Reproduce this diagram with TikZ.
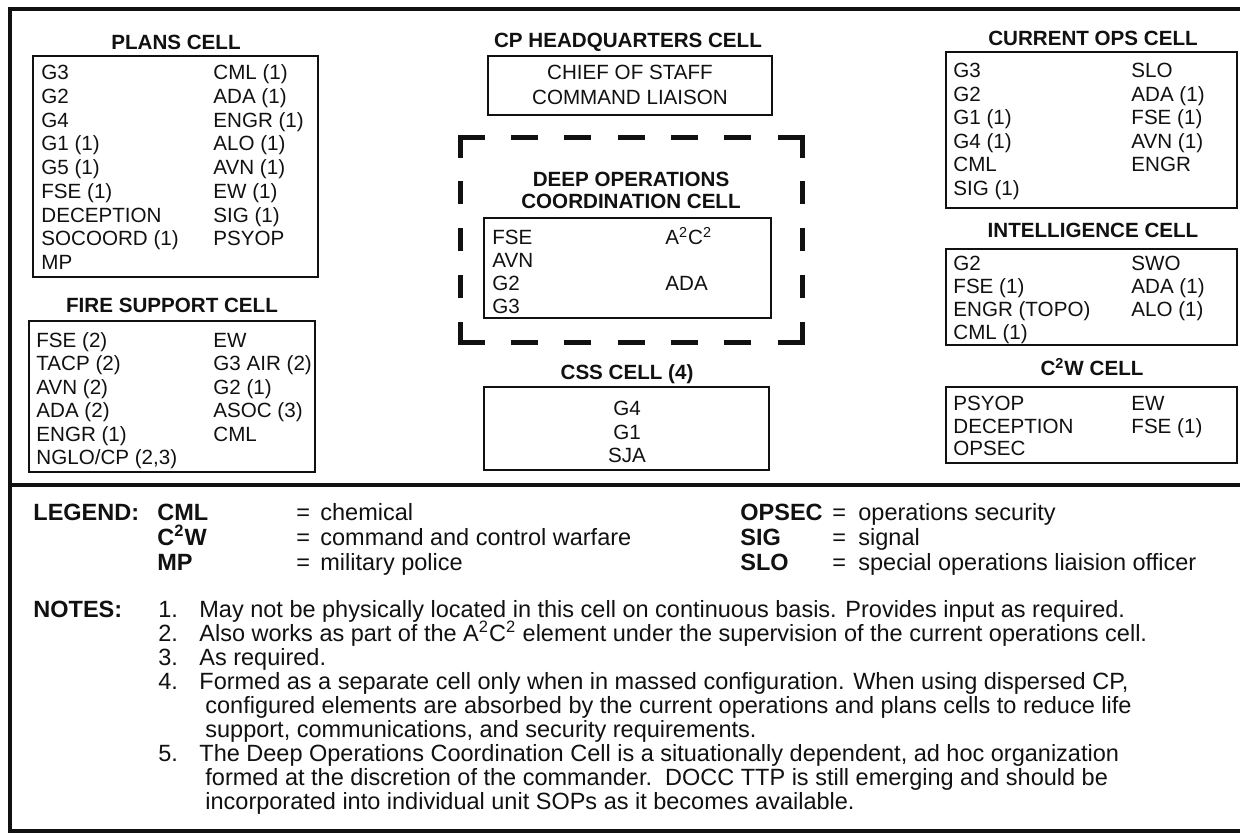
\documentclass[tikz,border=0pt]{standalone}
\usepackage{fontspec}
\setmainfont{Liberation Sans}
\definecolor{color_ink}{HTML}{111111}
\newcommand{\cellfont}{\fontsize{10.3}{12}\selectfont}
\newcommand{\notefont}{\fontsize{11.75}{13.5}\selectfont}
\tikzset{
  outer_frame/.style={draw=color_ink, line width=2pt},
  cell_box/.style={draw=color_ink, line width=1.2pt},
  cell_title/.style={font=\cellfont\bfseries, text=color_ink, inner sep=0pt, anchor=base},
  cell_entry/.style={font=\cellfont, text=color_ink, inner sep=0pt, anchor=base west},
  cell_centred/.style={cell_entry, anchor=base},
  docc_dash_h/.style={draw=color_ink, line width=2.5pt, line cap=rect, dash pattern=on 11pt off 15.67pt},
  docc_dash_v/.style={draw=color_ink, line width=2.5pt, line cap=rect, dash pattern=on 9pt off 14.375pt},
  legend_head/.style={font=\notefont\bfseries, text=color_ink, inner sep=0pt, anchor=base west},
  legend_text/.style={font=\notefont, text=color_ink, inner sep=0pt, anchor=base west},
}
% one column of a cell: name, x, first baseline, row gap, entries
\newcommand{\cellcolumn}[5]{%
  \foreach \entry [count=\row] in {#5}
    \node[cell_entry] (#1_\row) at ({#2}, {#3+(\row-1)*#4}) {\entry};
}

\begin{document}
\begin{tikzpicture}[x=0.5pt, y=-0.5pt]
  \useasboundingbox (0,0) rectangle (1240,837);
  \clip (0,0) rectangle (1240,837);
  \fill[white] (0,0) rectangle (1240,837);
  % Outer frame and legend divider
  \draw[outer_frame] (10,9) rectangle (1243,831);
  \draw[outer_frame] (10,485) -- (1243,485);

  % Plans cell
  \node[cell_title] (plans_title) at (176,49.5) {PLANS CELL};
  \draw[cell_box] (33,56) rectangle (318,277);
  \cellcolumn{plans_l}{41}{79.5}{23.75}{G3, G2, G4, G1 (1), G5 (1), FSE (1), DECEPTION, SOCOORD (1), MP}
  \cellcolumn{plans_r}{213}{79.5}{23.75}{CML (1), ADA (1), ENGR (1), ALO (1), AVN (1), EW (1), SIG (1), PSYOP}

  % Fire support cell
  \node[cell_title] (fire_title) at (172,312.5) {FIRE SUPPORT CELL};
  \draw[cell_box] (29,321) rectangle (315,472);
  \cellcolumn{fire_l}{36}{347.5}{23.4}{FSE (2), TACP (2), AVN (2), ADA (2), ENGR (1), {NGLO/CP (2,3)}}
  \cellcolumn{fire_r}{213}{347.5}{23.4}{EW, G3 AIR (2), G2 (1), ASOC (3), CML}

  % CP headquarters cell
  \node[cell_title] (hq_title) at (628,47.5) {CP HEADQUARTERS CELL};
  \draw[cell_box] (488,56) rectangle (772,115);
  \node[cell_centred] (hq_chief) at (630,79.5) {CHIEF OF STAFF};
  \node[cell_centred] (hq_liaison) at (630,104.5) {COMMAND LIAISON};

  % Deep operations coordination cell (dashed)
  \coordinate (docc_nw) at (460,137);
  \coordinate (docc_ne) at (802,137);
  \coordinate (docc_se) at (802,342);
  \coordinate (docc_sw) at (460,342);
  \draw[docc_dash_h] (docc_nw) -- (docc_ne);
  \draw[docc_dash_h] (docc_sw) -- (docc_se);
  \draw[docc_dash_v] (docc_nw) -- (docc_sw);
  \draw[docc_dash_v] (docc_ne) -- (docc_se);
  \node[cell_title] (docc_title_a) at (631,186.5) {DEEP OPERATIONS};
  \node[cell_title] (docc_title_b) at (631,208.5) {COORDINATION CELL};
  \draw[cell_box] (484,218) rectangle (771,318);
  \cellcolumn{docc_l}{492}{244.5}{23}{FSE, AVN, G2, G3}
  \node[cell_entry] (docc_r_1) at (665,244.5) {A\textsuperscript{2}C\textsuperscript{2}};
  \node[cell_entry] (docc_r_3) at (665,290.5) {ADA};

  % CSS cell
  \node[cell_title] (css_title) at (627,379.5) {CSS CELL (4)};
  \draw[cell_box] (484,387) rectangle (769,470);
  \node[cell_centred] (css_g4) at (627,415.5) {G4};
  \node[cell_centred] (css_g1) at (627,439) {G1};
  \node[cell_centred] (css_sja) at (627,462.5) {SJA};

  % Current ops cell
  \node[cell_title] (ops_title) at (1093,45.5) {CURRENT OPS CELL};
  \draw[cell_box] (946,52) rectangle (1237,208);
  \cellcolumn{ops_l}{953}{77.5}{23.6}{G3, G2, G1 (1), G4 (1), CML, SIG (1)}
  \cellcolumn{ops_r}{1131}{77.5}{23.6}{SLO, ADA (1), FSE (1), AVN (1), ENGR}

  % Intelligence cell
  \node[cell_title] (intel_title) at (1093,237.5) {INTELLIGENCE CELL};
  \draw[cell_box] (946,249) rectangle (1237,345);
  \cellcolumn{intel_l}{953}{270.5}{23}{G2, FSE (1), ENGR (TOPO), CML (1)}
  \cellcolumn{intel_r}{1131}{270.5}{23}{SWO, ADA (1), ALO (1)}

  % C2W cell
  \node[cell_title] (ctwo_title) at (1092,375.5) {C\textsuperscript{2}W CELL};
  \draw[cell_box] (946,387) rectangle (1237,463);
  \cellcolumn{ctwo_l}{953}{410.5}{22.5}{PSYOP, DECEPTION, OPSEC}
  \cellcolumn{ctwo_r}{1131}{410.5}{22.5}{EW, FSE (1)}

  % Legend
  \node[legend_head] (legend_label) at (33,520) {LEGEND:};
  \foreach \term/\gloss [count=\row] in {CML/chemical, C\textsuperscript{2}W/command and control warfare, MP/military police} {
    \node[legend_head] (legend_term_\row) at (157,{495+\row*25}) {\term};
    \node[legend_text] (legend_eq_\row) at (296,{495+\row*25}) {=};
    \node[legend_text] (legend_def_\row) at (320,{495+\row*25}) {\gloss};
  }
  \foreach \term/\gloss [count=\row] in {OPSEC/operations security, SIG/signal, SLO/special operations liaision officer} {
    \node[legend_head] (legend_rterm_\row) at (740,{495+\row*25}) {\term};
    \node[legend_text] (legend_req_\row) at (832,{495+\row*25}) {=};
    \node[legend_text] (legend_rdef_\row) at (858,{495+\row*25}) {\gloss};
  }

  % Notes
  \node[legend_head] (notes_label) at (33,617) {NOTES:};
  \foreach \num/\row in {1/0, 2/1, 3/2, 4/3, 5/6}
    \node[legend_text] (note_num_\num) at (158,{617+\row*24}) {\num.};
  \foreach \row/\line in {
      0/{May not be physically located in this cell on continuous basis. Provides input as required.},
      1/{Also works as part of the A\textsuperscript{2}C\textsuperscript{2} element under the supervision of the current operations cell.},
      2/{As required.},
      3/{Formed as a separate cell only when in massed configuration. When using dispersed CP,},
      6/{The Deep Operations Coordination Cell is a situationally dependent, ad hoc organization}}
    \node[legend_text] (note_text_\row) at (199,{617+\row*24}) {\line};
  \foreach \row/\line in {
      4/{configured elements are absorbed by the current operations and plans cells to reduce life},
      5/{support, communications, and security requirements.},
      7/{formed at the discretion of the commander.\ \ DOCC TTP is still emerging and should be},
      8/{incorporated into individual unit SOPs as it becomes available.}}
    \node[legend_text] (note_text_\row) at (205,{617+\row*24}) {\line};
\end{tikzpicture}
\end{document}
